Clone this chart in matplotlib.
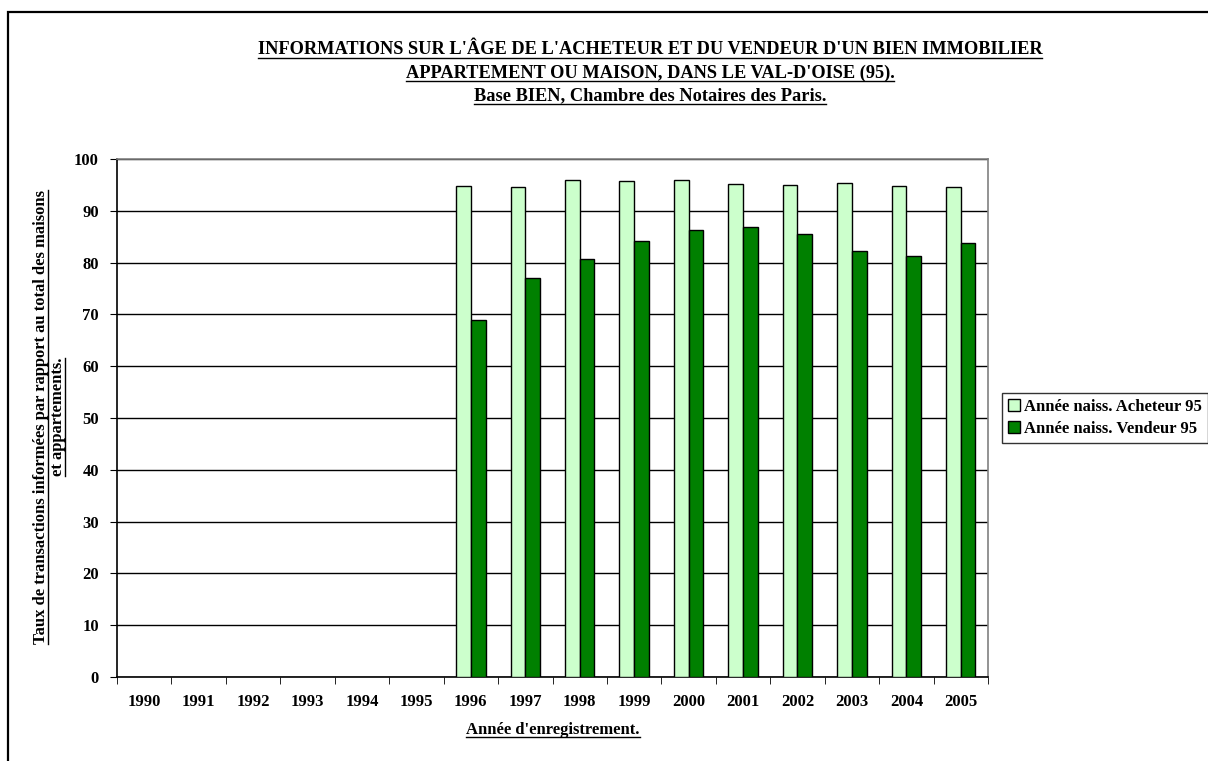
import numpy as np
import matplotlib
matplotlib.use("Agg")
import matplotlib.pyplot as plt
from matplotlib.lines import Line2D
from matplotlib.patches import Rectangle, Patch

years = ["1990", "1991", "1992", "1993", "1994", "1995", "1996", "1997",
         "1998", "1999", "2000", "2001", "2002", "2003", "2004", "2005"]
acheteur = [np.nan] * 6 + [94.7, 94.5, 95.9, 95.7, 95.9, 95.2, 95.0, 95.4, 94.8, 94.6]
vendeur = [np.nan] * 6 + [68.9, 77.0, 80.6, 84.1, 86.3, 86.9, 85.6, 82.2, 81.2, 83.7]
yticks = [0, 10, 20, 30, 40, 50, 60, 70, 80, 90, 100]

series_labels = ["Année naiss. Acheteur 95", "Année naiss. Vendeur 95"]
title_lines = ["INFORMATIONS SUR L'ÂGE DE L'ACHETEUR ET DU VENDEUR D'UN BIEN IMMOBILIER",
               "APPARTEMENT OU MAISON, DANS LE VAL-D'OISE (95).",
               "Base BIEN, Chambre des Notaires des Paris."]
ylabel_lines = ["Taux de transactions informées par rapport au total des maisons",
                "et appartements."]
xlabel = "Année d'enregistrement."

W, H = 1208, 761
FONT = "Liberation Serif"
plt.rcParams['font.family'] = [FONT, 'DejaVu Serif']
plt.rcParams['font.weight'] = 'bold'
FS = 12

fig = plt.figure(figsize=(W / 100, H / 100), dpi=100)
fig.patch.set_facecolor("white")

# outer border
fig.add_artist(Rectangle((8 / W, -0.1), 1.2, (H - 12) / H + 0.1, transform=fig.transFigure,
                         fill=False, edgecolor="black", linewidth=1.6))

left, right, top, bottom = 117, 988, 159, 677
ax = fig.add_axes([left / W, (H - bottom) / H, (right - left) / W, (bottom - top) / H])

x = np.arange(len(years))
bw = 0.27
ax.bar(x - bw / 2, acheteur, bw, color="#CCFFCC", edgecolor="black", linewidth=1.0,
       label=series_labels[0], zorder=3)
ax.bar(x + bw / 2, vendeur, bw, color="#008000", edgecolor="black", linewidth=1.0,
       label=series_labels[1], zorder=3)

ax.set_xlim(-0.5, len(years) - 0.5)
ax.set_ylim(0, 100)
ax.set_yticks(yticks)
ax.set_yticklabels([str(v) for v in yticks], fontsize=FS, fontweight="bold")
ax.set_xticks(x)
ax.set_xticklabels(years, fontsize=FS, fontweight="bold")
ax.tick_params(axis="x", length=0, pad=12)
ax.set_xticks(np.arange(-0.5, len(years), 1.0), minor=True)
ax.tick_params(axis="x", which="minor", length=5, direction="out", color="black")
ax.tick_params(axis="y", length=5, direction="out", color="black", pad=8)
ax.grid(axis="y", color="black", linewidth=1.0, zorder=0)
ax.set_axisbelow(True)
for s in ["top", "right"]:
    ax.spines[s].set_color("#808080")
    ax.spines[s].set_linewidth(1.2)
for s in ["left", "bottom"]:
    ax.spines[s].set_color("black")
    ax.spines[s].set_linewidth(1.2)

texts = []
for i, line in enumerate(title_lines):
    t = fig.text(650 / W, 1 - (50 + 23 * i) / H, line, ha="center", va="center",
                 fontsize=13.2, fontweight="bold")
    texts.append(("h", t))
t = fig.text(553 / W, 1 - 730 / H, xlabel, ha="center", va="center", fontsize=FS,
             fontweight="bold")
texts.append(("h", t))
for i, line in enumerate(ylabel_lines):
    t = fig.text((41 + 17 * i) / W, 1 - 417 / H, line, ha="center", va="center",
                 rotation=90, fontsize=FS, fontweight="bold")
    texts.append(("v", t))

handles = [Patch(facecolor="#CCFFCC", edgecolor="black", label=series_labels[0]),
           Patch(facecolor="#008000", edgecolor="black", label=series_labels[1])]
leg = fig.legend(handles=handles, loc="center left", bbox_to_anchor=(1002 / W, 1 - 418 / H),
                 frameon=True, fancybox=False, edgecolor="black",
                 prop={"weight": "bold", "size": FS, "family": FONT},
                 handlelength=0.75, handleheight=0.75, handletextpad=0.25,
                 borderpad=0.35, labelspacing=0.35, borderaxespad=0)
leg.get_frame().set_linewidth(1.0)

fig.canvas.draw()
r = fig.canvas.get_renderer()
for kind, t in texts:
    bb = t.get_window_extent(r)
    if kind == "h":
        yy = bb.y0 + 1
        fig.add_artist(Line2D([bb.x0 / W, bb.x1 / W], [yy / H, yy / H],
                              transform=fig.transFigure, color="black", linewidth=1.0))
    else:
        xx = bb.x1 - 1
        fig.add_artist(Line2D([xx / W, xx / W], [bb.y0 / H, bb.y1 / H],
                              transform=fig.transFigure, color="black", linewidth=1.0))

fig.savefig("out.png", dpi=100, facecolor="white")
